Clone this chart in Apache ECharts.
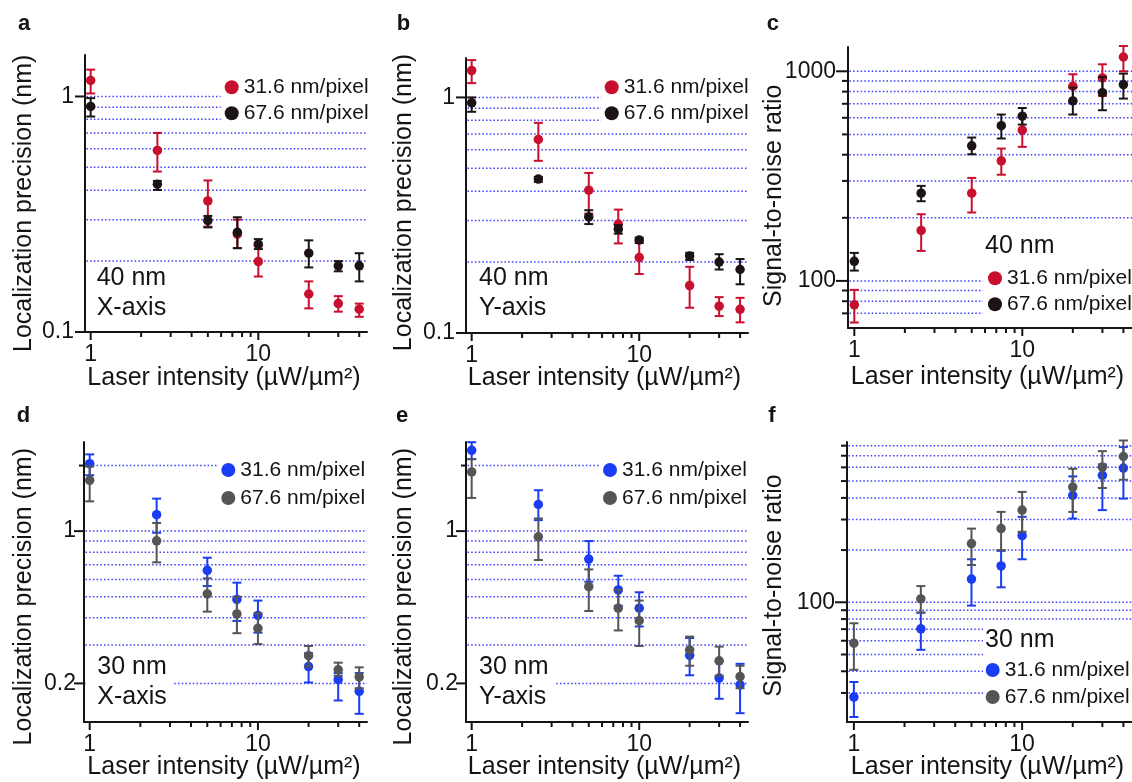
<!DOCTYPE html>
<html><head><meta charset="utf-8">
<script src="https://cdn.jsdelivr.net/npm/echarts@6/dist/echarts.min.js"></script>
<style>html,body{margin:0;padding:0;background:#fff}#chart{width:1132px;height:782px}</style>
</head><body><div id="chart"></div>
<script>
// ---------------- DATA ----------------
const intensity = [1, 2.5, 5, 7.5, 10, 20, 30, 40];
// each entry: [value, error-bar low, error-bar high]
const a316 = [[1.17,1.03,1.30],[0.59,0.48,0.70],[0.36,0.28,0.44],[0.26,0.227,0.30],[0.199,0.172,0.231],[0.145,0.126,0.164],[0.132,0.122,0.142],[0.125,0.116,0.132]];
const a676 = [[0.907,0.822,0.984],[0.424,0.401,0.438],[0.297,0.278,0.311],[0.265,0.227,0.307],[0.236,0.225,0.248],[0.216,0.188,0.245],[0.191,0.181,0.200],[0.191,0.164,0.216]];
const b316 = [[1.30,1.15,1.44],[0.663,0.538,0.780],[0.404,0.321,0.478],[0.290,0.240,0.334],[0.209,0.178,0.246],[0.159,0.128,0.191],[0.130,0.118,0.142],[0.126,0.111,0.141]];
const b676 = [[0.949,0.869,1.0],[0.450,0.438,0.460],[0.311,0.290,0.332],[0.276,0.264,0.287],[0.248,0.241,0.254],[0.212,0.204,0.219],[0.200,0.186,0.216],[0.186,0.161,0.206]];
const c316 = [[76.9,63.3,90.6],[174,139,208],[262,212,310],[374,321,428],[524,436,617],[849,720,968],[930,763,1080],[1170,1000,1320]];
const c676 = [[124,112,136],[262,240,284],[441,402,483],[550,478,622],[611,557,668],[722,622,836],[791,652,940],[864,741,975]];
const d316 = [[2.04,1.805,2.25],[1.19,0.983,1.41],[0.661,0.560,0.755],[0.486,0.387,0.580],[0.410,0.342,0.480],[0.239,0.202,0.275],[0.208,0.167,0.223],[0.184,0.145,0.223]];
const d676 = [[1.71,1.37,1.98],[0.903,0.719,1.09],[0.515,0.427,0.607],[0.417,0.340,0.500],[0.358,0.303,0.420],[0.268,0.239,0.297],[0.231,0.217,0.249],[0.214,0.190,0.237]];
const e316 = [[2.35,2.14,2.56],[1.325,1.123,1.541],[0.744,0.586,0.900],[0.537,0.454,0.624],[0.443,0.365,0.524],[0.269,0.218,0.323],[0.2115,0.170,0.252],[0.197,0.146,0.246]];
const e676 = [[1.87,1.42,2.14],[0.942,0.737,1.143],[0.556,0.430,0.667],[0.443,0.350,0.537],[0.388,0.297,0.480],[0.285,0.241,0.328],[0.254,0.217,0.295],[0.215,0.190,0.241]];
const f316 = [[28.4,21.8,34.7],[70.3,53.2,87.2],[136,95.7,177],[162,122,198],[242,177,311],[414,304,532],[540,340,624],[594,396,785]];
const f676 = [[58.1,40.8,75.7],[104.5,87.2,124],[218,164,266],[266,200,332],[340,255,433],[462,332,589],[602,456,744],[693,509,857]];

const seriesNames = ['31.6 nm/pixel', '67.6 nm/pixel'];
const panelLetters = ['a', 'b', 'c', 'd', 'e', 'f'];
const sampleText = ['40 nm', '40 nm', '40 nm', '30 nm', '30 nm', '30 nm'];
const directionText = ['X-axis', 'Y-axis', '', 'X-axis', 'Y-axis', ''];
const yTitles = ['Localization precision (nm)', 'Localization precision (nm)', 'Signal-to-noise ratio',
                 'Localization precision (nm)', 'Localization precision (nm)', 'Signal-to-noise ratio'];
const xTitle = 'Laser intensity (µW/µm²)';

const xTickMajor = [1, 10];
const xTickMinor = [2, 3, 4, 5, 6, 7, 8, 9, 20, 30, 40];
const yMajorAB = [0.1, 1];
const yMinorAB = [];
const yMajorC = [100, 1000];
const yMinorC = [70, 80, 90, 200, 300, 400, 500, 600, 700, 800, 900];
const yMajorDE = [0.2, 1];
const yMinorDE = [2];
const yMajorF = [100];
const yMinorF = [30, 40, 50, 60, 70, 80, 90, 200, 300, 400, 500, 600, 700, 800];
const gridAB = [0.2, 0.3, 0.4, 0.5, 0.6, 0.7, 0.8, 0.9, 1];
const gridC = [70, 80, 90, 100, 200, 300, 400, 500, 600, 700, 800, 900, 1000];
const gridDE = [0.2, 0.3, 0.4, 0.5, 0.6, 0.7, 0.8, 0.9, 1, 2];
const gridF = [30, 40, 50, 60, 70, 80, 90, 100, 200, 300, 400, 500, 600, 700, 800];

// ---------------- STYLE / LAYOUT ----------------
const FONT = "'Liberation Sans', Arial, Helvetica, sans-serif";
const INK = '#141414';
const GRIDC = '#3d3dff';
const RED = '#c8102e', BLACK = '#1c1414', BLUE = '#1a3cf2', GREY = '#555555';

const panels = [
  {data:[a316,a676], col:[RED,BLACK], g:{left:85,top:55,width:282,height:277}, x:[0.925,44.5], y:[0.1,1.5],
   yMaj:yMajorAB, yMin:yMinorAB, gl:gridAB, majLen:10, minLen:5, labGap:11,
   letter:[18,24], yT:[24.6,203.3], xT:[224,378], ann:[96.7,278.3], leg:[220.7,74.8], legGap:5, legBg:'#fff'},
  {data:[b316,b676], col:[RED,BLACK], g:{left:466,top:58,width:282,height:275}, x:[0.925,44.6], y:[0.1,1.47],
   yMaj:yMajorAB, yMin:yMinorAB, gl:gridAB, majLen:10, minLen:5, labGap:11,
   letter:[396.7,24], yT:[404.6,202.5], xT:[604.5,378], ann:[479,278.3], leg:[600.7,74.8], legGap:5, legBg:'#fff'},
  {data:[c316,c676], col:[RED,BLACK], g:{left:848,top:47,width:284,height:281}, x:[0.917,45], y:[59.6,1306],
   yMaj:yMajorC, yMin:yMinorC, gl:gridC, majLen:12, minLen:6, labGap:12,
   letter:[766.7,24], yT:[774.6,195.8], xT:[987.5,377], ann:[985,246], leg:[984,265.8], legGap:5, legBg:'transparent',
   cover:[983,230,149,97]},
  {data:[d316,d676], col:[BLUE,GREY], g:{left:84,top:442,width:283,height:280}, x:[0.925,44.5], y:[0.133,2.565],
   yMaj:yMajorDE, yMin:yMinorDE, gl:gridDE, majLen:10, minLen:5, labGap:8,
   letter:[16.7,415.6], yT:[24.6,596.7], xT:[224,767.6], ann:[97.3,667], leg:[217.3,457.5], legGap:7, legBg:'#fff',
   cover:[86,650,86,62]},
  {data:[e316,e676], col:[BLUE,GREY], g:{left:466,top:442,width:282,height:280}, x:[0.925,44.6], y:[0.133,2.565],
   yMaj:yMajorDE, yMin:yMinorDE, gl:gridDE, majLen:10, minLen:5, labGap:8,
   letter:[396,415.6], yT:[404.6,596.7], xT:[604.5,767.6], ann:[479,667], leg:[599,457.5], legGap:7, legBg:'#fff',
   cover:[467,650,87,62]},
  {data:[f316,f676], col:[BLUE,GREY], g:{left:847,top:442,width:285,height:280}, x:[0.91,45], y:[20.4,840],
   yMaj:yMajorF, yMin:yMinorF, gl:gridF, majLen:12, minLen:6, labGap:12,
   letter:[768.3,415.6], yT:[774.6,585.5], xT:[987.5,767.6], ann:[985,640.6], leg:[981.7,657.5], legGap:6, legBg:'transparent',
   cover:[983,623,149,98]}
];

function textStyle(text, size, weight, align, valign) {
  return {text: text, fill: INK, font: (weight || 'normal') + ' ' + size + 'px ' + FONT,
          align: align, verticalAlign: valign, textAlign: align, textVerticalAlign: valign};
}

const grid = [], xAxis = [], yAxis = [], series = [], legend = [], graphic = [];

panels.forEach(function (p, i) {
  grid.push(Object.assign({containLabel: false}, p.g));
  xAxis.push({type: 'log', gridIndex: i, min: p.x[0], max: p.x[1],
    axisLine: {show: true, onZero: false, lineStyle: {color: INK, width: 2}},
    axisTick: {show: false}, axisLabel: {show: false}, splitLine: {show: false}, minorTick: {show: false}});
  yAxis.push({type: 'log', gridIndex: i, min: p.y[0], max: p.y[1],
    axisLine: {show: true, onZero: false, lineStyle: {color: INK, width: 2}},
    axisTick: {show: false}, axisLabel: {show: false}, splitLine: {show: false}, minorTick: {show: false}});

  // dotted horizontal grid lines
  series.push({type: 'custom', name: 'grid' + i, xAxisIndex: i, yAxisIndex: i, z: 1, silent: true, clip: false,
    data: p.gl.map(function (v) { return [p.x[0], v]; }),
    renderItem: function (params, api) {
      const y = api.coord([p.x[0], api.value(1)])[1];
      const cs = params.coordSys;
      return {type: 'line', shape: {x1: cs.x + 1.5, y1: y, x2: cs.x + cs.width, y2: y},
        style: {stroke: GRIDC, lineWidth: 1.5, lineDash: [1.5, 2.2]}};
    }});

  // data: error bars + dots
  p.data.forEach(function (arr, s) {
    const color = p.col[s];
    series.push({type: 'custom', name: seriesNames[s] + ' err' + i, xAxisIndex: i, yAxisIndex: i,
      z: 2 + 2 * s, silent: true, clip: false, itemStyle: {color: color},
      encode: {x: 0, y: [1, 2]},
      data: intensity.map(function (x, k) { return [x, arr[k][1], arr[k][2]]; }),
      renderItem: function (params, api) {
        const x = api.value(0);
        const p0 = api.coord([x, api.value(1)]);
        const p1 = api.coord([x, api.value(2)]);
        const w = 4.5;
        const st = {stroke: color, lineWidth: 2};
        return {type: 'group', children: [
          {type: 'line', shape: {x1: p0[0], y1: p0[1], x2: p1[0], y2: p1[1]}, style: st},
          {type: 'line', shape: {x1: p0[0] - w, y1: p0[1], x2: p0[0] + w, y2: p0[1]}, style: st},
          {type: 'line', shape: {x1: p1[0] - w, y1: p1[1], x2: p1[0] + w, y2: p1[1]}, style: st}
        ]};
      }});
    series.push({type: 'scatter', name: seriesNames[s], xAxisIndex: i, yAxisIndex: i, z: 3 + 2 * s,
      symbol: 'circle', symbolSize: 9.5, itemStyle: {color: color, opacity: 1}, silent: true,
      data: intensity.map(function (x, k) { return [x, arr[k][0]]; })});
  });

  // x ticks + labels
  series.push({type: 'custom', name: 'xt' + i, xAxisIndex: i, yAxisIndex: i, z: 7, silent: true, clip: false,
    data: xTickMajor.concat(xTickMinor).map(function (v) { return [v, p.y[0]]; }),
    renderItem: function (params, api) {
      const v = api.value(0);
      const pt = api.coord([v, p.y[0]]);
      const major = xTickMajor.indexOf(v) >= 0;
      const ch = [{type: 'line', shape: {x1: pt[0], y1: pt[1], x2: pt[0], y2: pt[1] + (major ? 8 : 5)},
        style: {stroke: INK, lineWidth: 2}}];
      if (major) ch.push({type: 'text', x: pt[0], y: pt[1] + 11.5, style: textStyle(String(v), 23, 'normal', 'center', 'top')});
      return {type: 'group', children: ch};
    }});
  // y ticks + labels
  series.push({type: 'custom', name: 'yt' + i, xAxisIndex: i, yAxisIndex: i, z: 7, silent: true, clip: false,
    data: p.yMaj.concat(p.yMin).map(function (v) { return [p.x[0], v]; }),
    renderItem: function (params, api) {
      const v = api.value(1);
      const pt = api.coord([p.x[0], v]);
      const major = p.yMaj.indexOf(v) >= 0;
      const len = major ? p.majLen : p.minLen;
      const ch = [{type: 'line', shape: {x1: pt[0] - len, y1: pt[1], x2: pt[0], y2: pt[1]},
        style: {stroke: INK, lineWidth: 2}}];
      if (major) ch.push({type: 'text', x: pt[0] - p.labGap, y: pt[1], style: textStyle(String(v), 23, 'normal', 'right', 'middle')});
      return {type: 'group', children: ch};
    }});

  legend.push({show: true, left: p.leg[0], top: p.leg[1], orient: 'vertical', icon: 'circle',
    itemWidth: 14, itemHeight: 14, itemGap: p.legGap, padding: [2, 4, 2, 4], backgroundColor: p.legBg,
    selectedMode: false, z: 12,
    textStyle: {fontSize: 21, color: INK, fontFamily: FONT},
    data: seriesNames.map(function (n, s) { return {name: n, itemStyle: {color: p.col[s]}}; })});

  if (p.cover) {
    graphic.push({type: 'rect', z: 9, silent: true,
      shape: {x: p.cover[0], y: p.cover[1], width: p.cover[2], height: p.cover[3]},
      style: {fill: '#ffffff'}});
  }
  graphic.push({type: 'text', x: p.letter[0], y: p.letter[1], z: 11, silent: true,
    style: textStyle(panelLetters[i], 22, 'bold', 'left', 'middle')});
  graphic.push({type: 'text', x: p.yT[0], y: p.yT[1], rotation: Math.PI / 2, z: 11, silent: true,
    style: textStyle(yTitles[i], 25, 'normal', 'center', 'middle')});
  graphic.push({type: 'text', x: p.xT[0], y: p.xT[1], z: 11, silent: true,
    style: textStyle(xTitle, 25, 'normal', 'center', 'middle')});
  graphic.push({type: 'text', x: p.ann[0], y: p.ann[1], z: 11, silent: true,
    style: textStyle(sampleText[i], 25, 'normal', 'left', 'middle')});
  if (directionText[i]) {
    graphic.push({type: 'text', x: p.ann[0], y: p.ann[1] + 30, z: 11, silent: true,
      style: textStyle(directionText[i], 25, 'normal', 'left', 'middle')});
  }
});

const chart = echarts.init(document.getElementById('chart'), null, {renderer: 'canvas'});
chart.setOption({
  backgroundColor: '#ffffff',
  animation: false,
  grid: grid, xAxis: xAxis, yAxis: yAxis, series: series, legend: legend,
  graphic: {elements: graphic}
});
</script></body></html>
